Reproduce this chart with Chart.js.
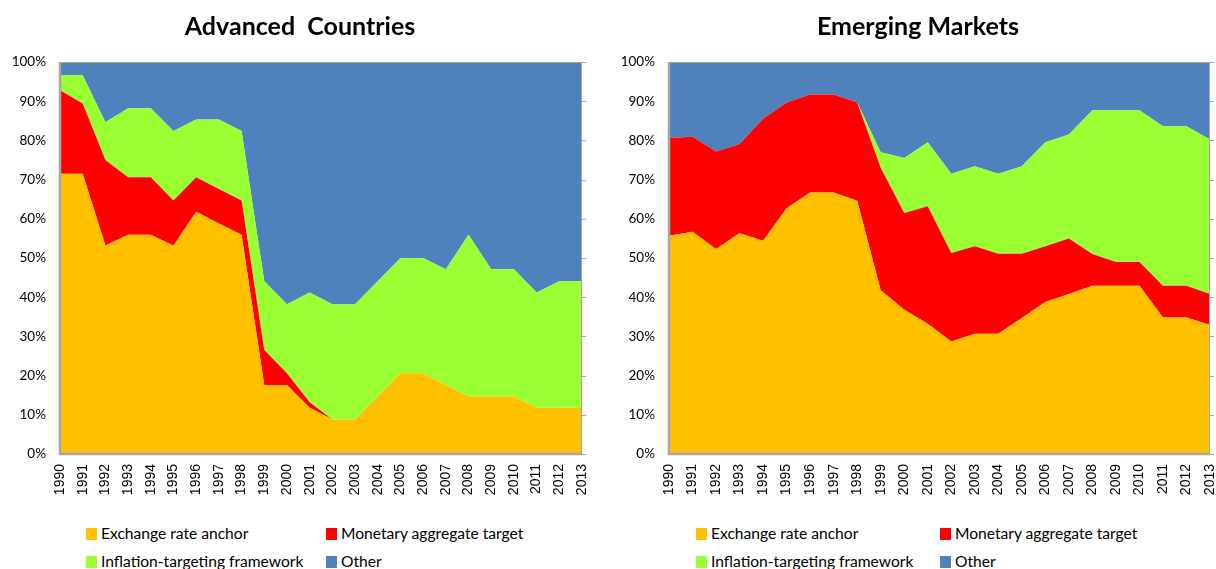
<!DOCTYPE html>
<html>
<head>
<meta charset="utf-8">
<script src="https://cdn.jsdelivr.net/npm/chart.js@4.4.0/dist/chart.umd.min.js"></script>
<style>
  body { margin: 0; background: #fff; width: 1216px; height: 569px; overflow: hidden; position: relative; font-family: Lato, "Open Sans", sans-serif; }
  .box { position: absolute; top: 0; height: 510px; }
  .ttl { position: absolute; top: 10px; width: 400px; text-align: center; font-size: 25px; font-weight: bold; line-height: 30px; color: #000; white-space: pre; }
  .leg { position: absolute; font-size: 15.6px; color: #000; white-space: nowrap; line-height: 18px; }
  .leg span.sw { display: inline-block; width: 11px; height: 12px; margin-right: 4px; vertical-align: -1px; }
</style>
</head>
<body>
<div class="box" style="left:0; width:600px;"><canvas id="advChart"></canvas></div>
<div class="box" style="left:600px; width:616px;"><canvas id="emChart"></canvas></div>
<div id="titles"></div>
<div id="legends"></div>

<script>
// years on the x axis
const years = ['1990','1991','1992','1993','1994','1995','1996','1997','1998','1999','2000','2001',
               '2002','2003','2004','2005','2006','2007','2008','2009','2010','2011','2012','2013'];

const seriesNames = ['Exchange rate anchor', 'Monetary aggregate target', 'Inflation-targeting framework', 'Other'];
const seriesColors = ['#FFC000', '#FF0000', '#99FF33', '#4F81BD'];

// Advanced Countries (% share)
const advExchange  = [71.5,71.5,53.2,55.9,55.9,53.1,61.8,58.8,55.9,17.6,17.6,11.8,8.8,8.8,14.7,20.6,20.6,17.6,14.7,14.7,14.7,11.8,11.8,11.8];
const advMonetary  = [21.3,17.9,21.8,14.7,14.7,11.6,8.8,8.8,8.8,8.9,3.0,1.4,0,0,0,0,0,0,0,0,0,0,0,0];
const advInflation = [3.8,7.2,9.6,17.6,17.6,17.7,14.7,17.7,17.7,17.6,17.6,28.0,29.4,29.4,29.4,29.4,29.4,29.5,41.2,32.4,32.4,29.4,32.3,32.3];
const advOther     = [3.4,3.4,15.4,11.8,11.8,17.6,14.7,14.7,17.6,55.9,61.8,58.8,61.8,61.8,55.9,50.0,50.0,52.9,44.1,52.9,52.9,58.8,55.9,55.9];

// Emerging Markets (% share)
const emExchange  = [55.7,56.7,52.3,56.3,54.4,62.7,66.7,66.7,64.6,41.8,36.8,33.2,28.7,30.7,30.7,34.7,38.8,40.8,42.9,42.9,42.9,34.8,34.8,32.9];
const emMonetary  = [24.9,24.2,24.9,22.8,31.1,27.0,25.0,25.0,25.1,31.2,24.7,30.0,22.6,22.3,20.4,16.4,14.2,14.2,8.1,6.1,6.1,8.1,8.1,7.9];
const emInflation = [0,0,0,0,0,0,0,0,0,4.0,14.0,16.3,20.2,20.4,20.4,22.3,26.5,26.5,36.7,38.7,38.7,40.7,40.7,39.4];
const emOther     = [19.4,19.1,22.8,20.9,14.5,10.3,8.3,8.3,10.3,23.0,24.5,20.5,28.5,26.6,28.5,26.6,20.5,18.5,12.3,12.3,12.3,16.4,16.4,19.8];

const yTicks = [0,10,20,30,40,50,60,70,80,90,100];

const FONT = 'Lato, "Open Sans", sans-serif';

// plot frame + little tick marks on the right edge, like the excel original
const framePlugin = {
    id: 'frame',
    afterDatasetsDraw(chart) {
        const ctx = chart.ctx;
        const a = chart.chartArea;
        const y = chart.scales.y;
        ctx.save();
        ctx.strokeStyle = '#A6A6A6';
        ctx.lineWidth = 1;
        ctx.strokeRect(a.left + 0.5, a.top + 0.5, a.right - a.left - 1, a.bottom - a.top - 1);
        yTicks.forEach(v => {
            const py = Math.round(y.getPixelForValue(v)) + 0.5;
            ctx.beginPath();
            ctx.moveTo(a.right, py);
            ctx.lineTo(a.right + 4, py);
            ctx.stroke();
        });
        ctx.lineWidth = 2.5;
        ctx.beginPath();
        ctx.moveTo(a.left, a.top);
        ctx.lineTo(a.left, a.bottom);
        ctx.lineTo(a.right, a.bottom);
        ctx.stroke();
        ctx.restore();
    }
};

function makeChart(id, data, yWidth, pad) {
    const ctx = document.getElementById(id).getContext('2d');
    return new Chart(ctx, {
        type: 'line',
        data: {
            labels: years,
            datasets: data.map((d, i) => ({
                label: seriesNames[i],
                data: d,
                backgroundColor: seriesColors[i],
                borderColor: seriesColors[i],
                borderWidth: 0,
                pointRadius: 0,
                tension: 0,
                fill: i === 0 ? 'origin' : '-1'
            }))
        },
        options: {
            responsive: true,
            maintainAspectRatio: false,
            animation: false,
            layout: { padding: pad, autoPadding: false },
            scales: {
                x: {
                    grid: { display: false, drawTicks: false },
                    border: { display: false },
                    ticks: {
                        autoSkip: false,
                        maxRotation: 90,
                        minRotation: 90,
                        padding: 10,
                        color: '#000',
                        font: { family: '"Liberation Sans", Arial, sans-serif', size: 14 }
                    },
                    afterFit: (scale) => {
                        scale.height = 56;
                        scale.paddingLeft = 0;
                        scale.paddingRight = 0;
                    }
                },
                y: {
                    stacked: true,
                    min: 0,
                    max: 100,
                    grid: { display: false, drawTicks: false },
                    border: { display: false },
                    ticks: {
                        stepSize: 10,
                        padding: 14,
                        color: '#000',
                        font: { family: FONT, size: 13.5 },
                        callback: v => v + '%'
                    },
                    afterFit: (scale) => { scale.width = yWidth; }
                }
            },
            plugins: {
                legend: { display: false },
                tooltip: { enabled: false },
                title: { display: false }
            }
        },
        plugins: [framePlugin]
    });
}

makeChart('advChart', [advExchange, advMonetary, advInflation, advOther], 60, { top: 62, left: 0, right: 18 });
makeChart('emChart', [emExchange, emMonetary, emInflation, emOther], 59, { top: 62, left: 10, right: 6 });

// titles
const titles = [
    { text: 'Advanced  Countries', cx: 300 },
    { text: 'Emerging Markets', cx: 918 }
];
const tWrap = document.getElementById('titles');
titles.forEach(t => {
    const el = document.createElement('div');
    el.className = 'ttl';
    el.style.left = (t.cx - 200) + 'px';
    el.textContent = t.text;
    tWrap.appendChild(el);
});

// legends below each chart, 2 x 2 like the original
const legendSpots = [
    { x: 86, col2: 326 },
    { x: 696, col2: 940 }
];
const legWrap = document.getElementById('legends');
legendSpots.forEach(s => {
    seriesNames.forEach((name, i) => {
        const el = document.createElement('div');
        el.className = 'leg';
        el.style.left = (i % 2 === 0 ? s.x : s.col2) + 'px';
        el.style.top = (i < 2 ? 524 : 552) + 'px';
        el.innerHTML = '<span class="sw" style="background:' + seriesColors[i] + '"></span>' + name;
        legWrap.appendChild(el);
    });
});
</script>
</body>
</html>
